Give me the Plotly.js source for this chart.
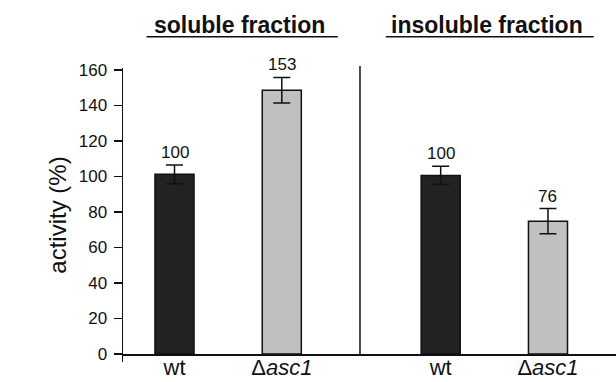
<!DOCTYPE html>
<html>
<head>
<meta charset="utf-8">
<script src="https://cdn.plot.ly/plotly-3.0.1.min.js"></script>
<style>html,body{margin:0;padding:0;background:#fff;}#chart{width:616px;height:382px;}</style>
</head>
<body>
<div id="chart"></div>
<script>
// ---- data ----
const categories = ['wt', 'Δ<i>asc1</i>'];
const solubleValues = [101.2, 148.6];
const solubleErrors = [5.3, 7.2];
const solubleLabels = ['100', '153'];
const insolubleValues = [100.6, 74.8];
const insolubleErrors = [5.1, 7.1];
const insolubleLabels = ['100', '76'];
const groupTitles = ['soluble fraction', 'insoluble fraction'];
const yTitle = 'activity (%)';

// ---- styling ----
const FONT = 'Liberation Sans, Arial, Helvetica, sans-serif';
const INK = '#111111';
const barFill = ['#222222', '#c0c0c0'];

function barTrace(values, errors, xa) {
  return {
    type: 'bar',
    x: categories,
    y: values,
    xaxis: xa,
    yaxis: 'y',
    width: 0.364,
    marker: {color: barFill, line: {color: INK, width: 1.5}},
    error_y: {type: 'data', array: errors, visible: true, color: INK, thickness: 1.5, width: 8.5},
    hoverinfo: 'skip',
    showlegend: false
  };
}

const data = [
  barTrace(solubleValues, solubleErrors, 'x'),
  barTrace(insolubleValues, insolubleErrors, 'x2')
];

const annotations = [];
function addLabels(values, errors, labels, xref) {
  labels.forEach((t, i) => {
    annotations.push({
      xref: xref, yref: 'y', x: i, y: values[i] + errors[i],
      text: t, showarrow: false, yanchor: 'bottom', yshift: 1,
      font: {family: FONT, size: 17, color: INK}
    });
  });
}
addLabels(solubleValues, solubleErrors, solubleLabels, 'x');
addLabels(insolubleValues, insolubleErrors, insolubleLabels, 'x2');

annotations.push({
  xref: 'paper', yref: 'paper', x: 0.2353, y: 1.1452, xanchor: 'center', yanchor: 'middle',
  text: '<b>' + groupTitles[0] + '</b>', showarrow: false,
  font: {family: FONT, size: 23, color: INK}
});
annotations.push({
  xref: 'paper', yref: 'paper', x: 0.7387, y: 1.1452, xanchor: 'center', yanchor: 'middle',
  text: '<b>' + groupTitles[1] + '</b>', showarrow: false,
  font: {family: FONT, size: 23, color: INK}
});

const xCommon = {
  type: 'category',
  anchor: 'free',
  position: 0.0272,
  showline: true, linecolor: INK, linewidth: 1.5,
  ticks: '',
  ticklabelstandoff: -7,
  showgrid: false, zeroline: false,
  tickfont: {family: FONT, size: 22, color: INK},
  fixedrange: true
};

const layout = {
  width: 616, height: 382,
  margin: {l: 123, r: 0, t: 68, b: 20, pad: 0},
  paper_bgcolor: '#ffffff', plot_bgcolor: '#ffffff',
  font: {family: FONT, color: INK},
  bargap: 0,
  xaxis: Object.assign({}, xCommon, {domain: [0, 0.4807], range: [-0.48, 1.7288]}),
  xaxis2: Object.assign({}, xCommon, {domain: [0.4807, 1], range: [-0.752, 1.634]}),
  yaxis: {
    anchor: 'x',
    range: [-4.5, 161.1],
    tick0: 0, dtick: 20,
    showline: true, linecolor: INK, linewidth: 1.5,
    ticks: 'outside', ticklen: 8, tickwidth: 1.5, tickcolor: INK,
    ticklabelstandoff: 3,
    showgrid: false, zeroline: false,
    tickfont: {family: FONT, size: 17, color: INK},
    title: {text: yTitle, font: {family: FONT, size: 24, color: INK}, standoff: 5},
    fixedrange: true
  },
  shapes: [
    {type: 'line', xref: 'paper', yref: 'paper', x0: 0.4807, x1: 0.4807, y0: 0.0272, y1: 1.0068,
     line: {color: INK, width: 1.5}},
    {type: 'line', xref: 'paper', yref: 'paper', x0: 0.0477, x1: 0.4357, y0: 1.1065, y1: 1.1065,
     line: {color: INK, width: 1.5}},
    {type: 'line', xref: 'paper', yref: 'paper', x0: 0.5331, x1: 0.9548, y0: 1.1065, y1: 1.1065,
     line: {color: INK, width: 1.5}}
  ],
  annotations: annotations
};

Plotly.newPlot('chart', data, layout, {displayModeBar: false, staticPlot: true});
</script>
</body>
</html>
